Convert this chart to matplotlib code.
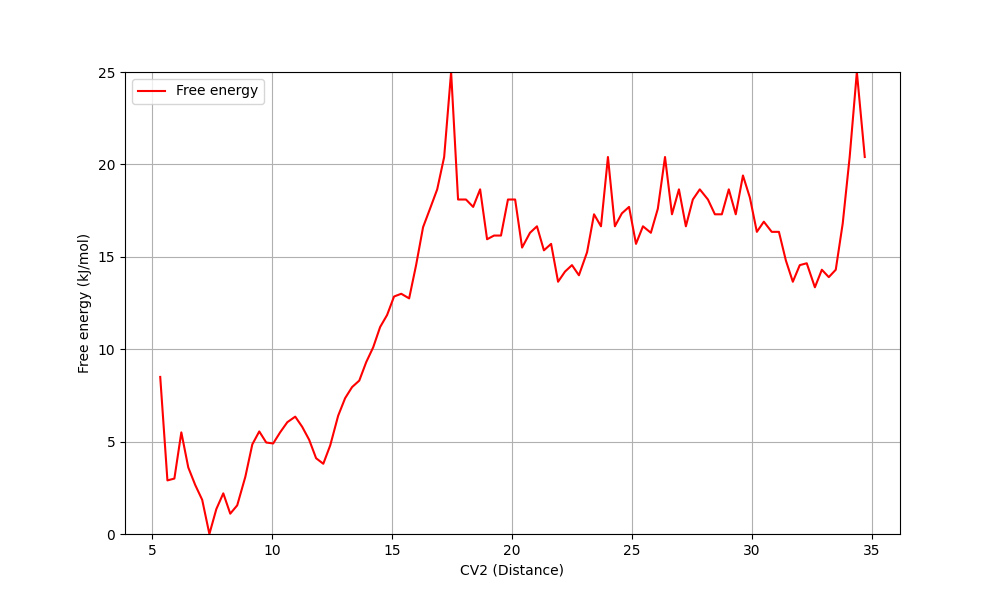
import matplotlib
matplotlib.use("Agg")
import matplotlib.pyplot as plt

cv2 = [5.33, 5.63, 5.92, 6.21, 6.5, 6.79, 7.08, 7.38, 7.67, 7.96, 8.25, 8.54, 8.88, 9.17,
       9.46, 9.75, 10.04, 10.33, 10.63, 10.96, 11.25, 11.54, 11.83, 12.13, 12.42, 12.75,
       13.04, 13.33, 13.63, 13.92, 14.21, 14.5, 14.79, 15.08, 15.38, 15.71, 16.0, 16.29,
       16.58, 16.88, 17.17, 17.46, 17.75, 18.08, 18.38, 18.67, 18.96, 19.25, 19.54, 19.83,
       20.13, 20.42, 20.75, 21.04, 21.33, 21.63, 21.92, 22.21, 22.5, 22.79, 23.13, 23.42,
       23.71, 24.0, 24.29, 24.58, 24.88, 25.17, 25.46, 25.79, 26.08, 26.38, 26.67, 26.96,
       27.25, 27.54, 27.83, 28.17, 28.46, 28.75, 29.04, 29.33, 29.63, 29.92, 30.21, 30.5,
       30.83, 31.13, 31.42, 31.71, 32.0, 32.29, 32.63, 32.92, 33.21, 33.5, 33.79, 34.08,
       34.38, 34.71]
free_energy = [8.5, 2.9, 3.0, 5.5, 3.6, 2.65, 1.85, 0.0, 1.35, 2.2, 1.1, 1.55, 3.1, 4.85,
               5.55, 4.95, 4.9, 5.5, 6.05, 6.35, 5.8, 5.1, 4.1, 3.8, 4.8, 6.4,
               7.35, 7.95, 8.3, 9.3, 10.1, 11.2, 11.85, 12.85, 13.0, 12.75, 14.55, 16.6,
               17.6, 18.65, 20.4, 25.0, 18.1, 18.1, 17.7, 18.65, 15.95, 16.15, 16.15, 18.1,
               18.1, 15.5, 16.3, 16.65, 15.35, 15.7, 13.65, 14.2, 14.55, 14.0, 15.25, 17.3,
               16.65, 20.4, 16.65, 17.35, 17.7, 15.7, 16.65, 16.3, 17.6, 20.4, 17.3, 18.65,
               16.65, 18.1, 18.65, 18.1, 17.3, 17.3, 18.65, 17.3, 19.4, 18.2, 16.35, 16.9,
               16.35, 16.35, 14.8, 13.65, 14.55, 14.65, 13.35, 14.3, 13.9, 14.3, 16.8, 20.4,
               25.0, 20.4]

fig, ax = plt.subplots(figsize=(10, 6))
ax.plot(cv2, free_energy, color="red", label="Free energy")
ax.set_ylim(0, 25)
ax.set_xlabel("CV2 (Distance)")
ax.set_ylabel("Free energy (kJ/mol)")
ax.grid(True)
ax.legend(loc="upper left")
fig.savefig("out.png", dpi=100)
